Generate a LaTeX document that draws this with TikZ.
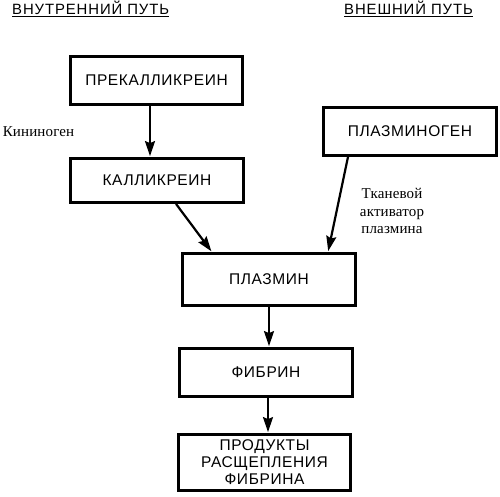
\documentclass[tikz,border=0pt]{standalone}
\usepackage{fontspec}
\setmainfont{Liberation Sans}
\newfontfamily\boxfont{Liberation Sans}[LetterSpace=4]
\newfontfamily\headfont{Liberation Sans}[LetterSpace=6]
\newfontfamily\labfont{Liberation Serif}[LetterSpace=1]
\usetikzlibrary{arrows.meta}
\begin{document}
\begin{tikzpicture}[x=1pt,y=-1pt,
  stagebox/.style={draw, line width=2.8pt, inner sep=0pt, align=center,
    font=\boxfont\fontsize{15.5}{17}\selectfont},
  headtext/.style={inner sep=0pt, anchor=base west, font=\headfont\fontsize{14.9}{16}\selectfont},
  labtext/.style={inner sep=0pt, align=center, font=\labfont\fontsize{15}{17.5}\selectfont},
  flow/.style={line width=2.2pt, -{Stealth[length=15pt,width=10pt,inset=2pt]}, shorten >=1pt}
]
\useasboundingbox (0,0) rectangle (500,497);
% headings
\node[headtext] (hin) at (12,14.5) {\underline{ВНУТРЕННИЙ ПУТЬ}};
\node[headtext] (hex) at (344,14.5) {\underline{ВНЕШНИЙ ПУТЬ}};
% boxes
\node[stagebox, minimum width=172pt, minimum height=48pt] (pre) at (156.5,80.5) {ПРЕКАЛЛИКРЕИН};
\node[stagebox, minimum width=173pt, minimum height=44pt] (kal) at (157,180.5) {КАЛЛИКРЕИН};
\node[stagebox, minimum width=173pt, minimum height=48pt] (plg) at (410,131.5) {ПЛАЗМИНОГЕН};
\node[stagebox, minimum width=173pt, minimum height=52pt] (pla) at (269,279.5) {ПЛАЗМИН};
\node[stagebox, minimum width=173pt, minimum height=48pt] (fib) at (266,372.5) {ФИБРИН};
\node[stagebox, minimum width=172pt, minimum height=56pt] (prod) at (264.5,462.5) {ПРОДУКТЫ\\РАСЩЕПЛЕНИЯ\\ФИБРИНА};
% labels
\node[labtext] (kin) at (38.5,132) {Кининоген};
\node[labtext] (tpa) at (392,211) {Тканевой\\активатор\\плазмина};
% arrows
\draw[flow] ([xshift=-6.5pt]pre.south) -- ([xshift=-6.5pt]pre.south |- kal.north);
\draw[flow] ([xshift=19pt]kal.south) -- ([xshift=-57pt]pla.north);
\draw[flow] ([xshift=-62pt]plg.south) -- ([xshift=59pt]pla.north);
\draw[flow] (pla.south) -- (pla.south |- fib.north);
\draw[flow] ([xshift=2pt]fib.south) -- ([xshift=2pt]fib.south |- prod.north);
\end{tikzpicture}
\end{document}
